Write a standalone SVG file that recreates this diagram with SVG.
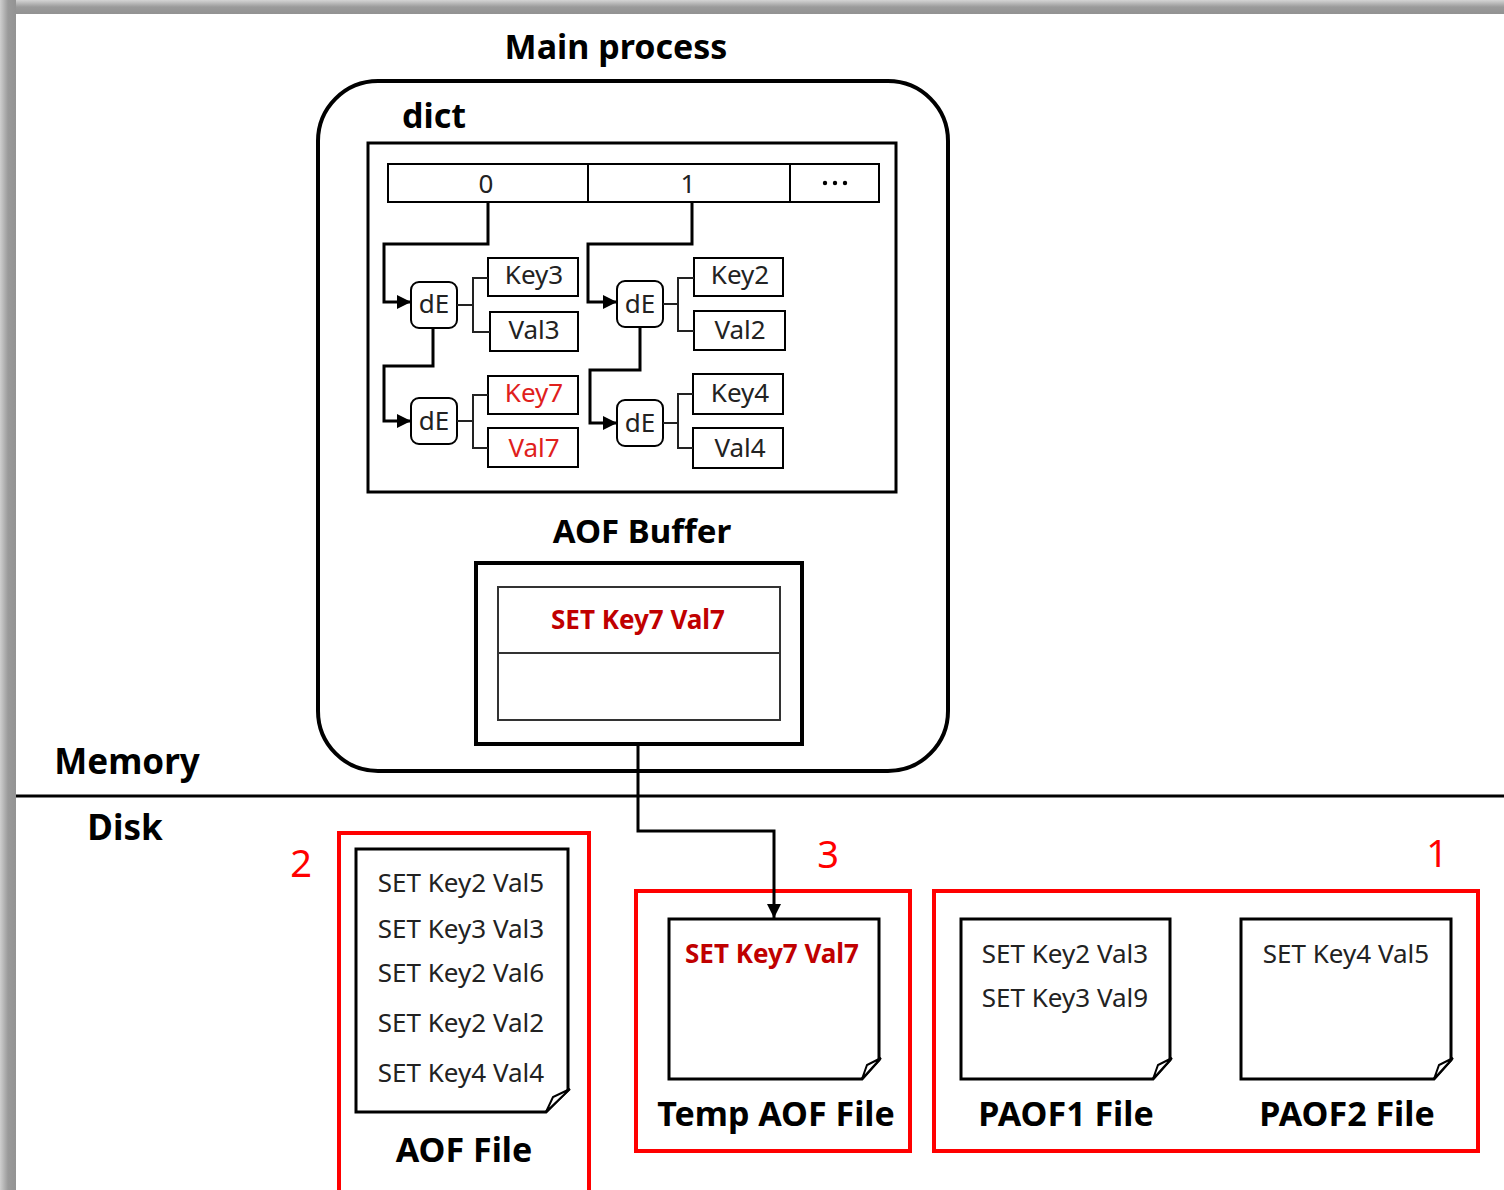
<svg xmlns="http://www.w3.org/2000/svg" width="1504" height="1190" viewBox="0 0 1504 1190">
<defs>
<linearGradient id="gTop" x1="0" y1="0" x2="0" y2="1"><stop offset="0" stop-color="#d4d4d4"/><stop offset="0.5" stop-color="#9a9a9a"/><stop offset="1" stop-color="#929292"/></linearGradient>
<linearGradient id="gLeft" x1="0" y1="0" x2="1" y2="0"><stop offset="0" stop-color="#cfcfcf"/><stop offset="0.5" stop-color="#9a9a9a"/><stop offset="1" stop-color="#939393"/></linearGradient>
<marker id="arrS" viewBox="0 0 10 10" refX="10" refY="5" markerWidth="14" markerHeight="14" orient="auto" markerUnits="userSpaceOnUse"><path d="M0,0 L10,5 L0,10 Z" fill="#000"/></marker>
</defs>
<style>
text{font-family:"Noto Sans","Open Sans","Liberation Sans",sans-serif;}
.t{font-size:26px;fill:#222;text-anchor:middle;}
.r{fill:#e0201c;}
.b{font-weight:bold;fill:#000;text-anchor:middle;}
.rb{font-weight:bold;fill:#c00000;text-anchor:middle;font-size:26px;}
.num{font-size:38px;fill:#ff0000;text-anchor:middle;}
.box{fill:#fff;stroke:#000;stroke-width:2;}
.de{fill:#fff;stroke:#000;stroke-width:2;}
.ln{fill:none;stroke:#000;stroke-width:3;}
.br{fill:none;stroke:#222;stroke-width:2;}
.red{fill:none;stroke:#ff0000;stroke-width:4;}
.doc{fill:#fff;stroke:#000;stroke-width:3;}
.fold{fill:#fff;stroke:#000;stroke-width:2;}
</style>
<rect x="0" y="0" width="1504" height="1190" fill="#fff"/>
<rect x="0" y="0" width="1504" height="14" fill="url(#gTop)"/>
<rect x="0" y="0" width="16" height="1190" fill="url(#gLeft)"/>

<g id="main-process">
<text class="b" x="616" y="59" font-size="34">Main process</text>
<rect x="318" y="81" width="630" height="690" rx="60" ry="60" fill="none" stroke="#000" stroke-width="4"/>
</g>

<g id="dict">
<text class="b" x="434" y="128" font-size="34">dict</text>
<rect x="368" y="143" width="528" height="349" fill="none" stroke="#000" stroke-width="3"/>
<rect class="box" x="388" y="164" width="491" height="38"/>
<line x1="588" y1="164" x2="588" y2="202" stroke="#000" stroke-width="2"/>
<line x1="790" y1="164" x2="790" y2="202" stroke="#000" stroke-width="2"/>
<text class="t" x="486" y="193">0</text>
<text class="t" x="688" y="193">1</text>
<circle cx="825" cy="183" r="2.2" fill="#000"/>
<circle cx="835" cy="183" r="2.2" fill="#000"/>
<circle cx="845" cy="183" r="2.2" fill="#000"/>
</g>

<g id="dE1"><rect class="de" x="411" y="282" width="46" height="46" rx="8"/><text class="t" x="434" y="313">dE</text></g>
<g id="key3"><rect class="box" x="488" y="258" width="90" height="38"/><text class="t" x="534" y="284">Key3</text></g>
<g id="val3"><rect class="box" x="490" y="312" width="88" height="39"/><text class="t" x="534" y="339">Val3</text></g>
<g id="dE2"><rect class="de" x="411" y="398" width="46" height="46" rx="8"/><text class="t" x="434" y="430">dE</text></g>
<g id="key7"><rect class="box" x="488" y="376" width="90" height="38"/><text class="t r" x="534" y="402">Key7</text></g>
<g id="val7"><rect class="box" x="488" y="428" width="90" height="39"/><text class="t r" x="534" y="457">Val7</text></g>
<g id="dE3"><rect class="de" x="617" y="281" width="46" height="46" rx="8"/><text class="t" x="640" y="313">dE</text></g>
<g id="key2"><rect class="box" x="694" y="258" width="89" height="38"/><text class="t" x="740" y="284">Key2</text></g>
<g id="val2"><rect class="box" x="694" y="311" width="91" height="39"/><text class="t" x="740" y="339">Val2</text></g>
<g id="dE4"><rect class="de" x="617" y="400" width="46" height="46" rx="8"/><text class="t" x="640" y="432">dE</text></g>
<g id="key4"><rect class="box" x="693" y="374" width="90" height="40"/><text class="t" x="740" y="402">Key4</text></g>
<g id="val4"><rect class="box" x="693" y="428" width="90" height="40"/><text class="t" x="740" y="457">Val4</text></g>

<g id="aof-buffer">
<text class="b" x="642" y="543" font-size="33">AOF Buffer</text>
<rect x="476" y="563" width="326" height="181" fill="#fff" stroke="#000" stroke-width="4"/>
<rect x="498" y="587" width="282" height="133" fill="none" stroke="#333" stroke-width="2"/>
<line x1="498" y1="653" x2="780" y2="653" stroke="#333" stroke-width="2"/>
<text class="rb" x="638" y="629">SET Key7 Val7</text>
</g>

<g id="memory-disk">
<text class="b" x="127" y="774" font-size="35">Memory</text>
<line x1="16" y1="796" x2="1504" y2="796" stroke="#000" stroke-width="3"/>
<text class="b" x="125" y="840" font-size="35">Disk</text>
</g>

<g id="aof-file">
<text class="num" x="301" y="877">2</text>
<rect class="red" x="339" y="833" width="250" height="362"/>
<path class="doc" d="M356,849 H568 V1090 L546,1112 H356 Z"/>
<path class="fold" d="M570,1089 L553,1097 L546,1112 Z"/>
<text class="t" x="461" y="892">SET Key2 Val5</text>
<text class="t" x="461" y="938">SET Key3 Val3</text>
<text class="t" x="461" y="982">SET Key2 Val6</text>
<text class="t" x="461" y="1032">SET Key2 Val2</text>
<text class="t" x="461" y="1082">SET Key4 Val4</text>
<text class="b" x="464" y="1162" font-size="34">AOF File</text>
</g>

<g id="temp-aof-file">
<text class="num" x="828" y="868">3</text>
<rect class="red" x="636" y="891" width="274" height="260"/>
<path class="doc" d="M669,919 H879 V1060 L862,1079 H669 Z"/>
<path class="fold" d="M881,1058 L867,1065 L862,1079 Z"/>
<text class="rb" x="772" y="963">SET Key7 Val7</text>
<text class="b" x="776" y="1126" font-size="34">Temp AOF File</text>
</g>

<g id="paof-files">
<text class="num" x="1437" y="867">1</text>
<rect class="red" x="934" y="891" width="544" height="260"/>
</g>
<g id="paof1-file">
<path class="doc" d="M961,919 H1170 V1060 L1153,1079 H961 Z"/>
<path class="fold" d="M1172,1058 L1158,1065 L1153,1079 Z"/>
<text class="t" x="1065" y="963">SET Key2 Val3</text>
<text class="t" x="1065" y="1007">SET Key3 Val9</text>
<text class="b" x="1066" y="1126" font-size="34">PAOF1 File</text>
</g>
<g id="paof2-file">
<path class="doc" d="M1241,919 H1451 V1060 L1434,1079 H1241 Z"/>
<path class="fold" d="M1453,1058 L1439,1065 L1434,1079 Z"/>
<text class="t" x="1346" y="963">SET Key4 Val5</text>
<text class="b" x="1347" y="1126" font-size="34">PAOF2 File</text>
</g>

<g id="connectors">
<path class="ln" d="M488,202 V244 H384 V302 H411" marker-end="url(#arrS)"/>
<path class="ln" d="M433,328 V366 H384 V421 H411" marker-end="url(#arrS)"/>
<path class="ln" d="M692,202 V244 H588 V302 H617" marker-end="url(#arrS)"/>
<path class="ln" d="M640,327 V370 H590 V423 H617" marker-end="url(#arrS)"/>
<path class="br" d="M457,305 H473 M488,278 H473 V332 H490"/>
<path class="br" d="M457,421 H473 M488,395 H473 V448 H488"/>
<path class="br" d="M663,304 H678 M694,278 H678 V331 H694"/>
<path class="br" d="M663,423 H678 M693,394 H678 V448 H693"/>
<path class="ln" d="M638,744 V831 H774 V918" marker-end="url(#arrS)"/>
</g>
</svg>
